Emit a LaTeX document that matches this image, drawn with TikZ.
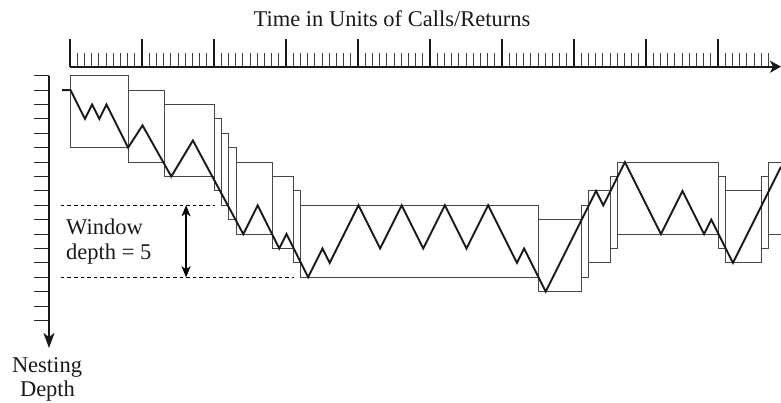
\documentclass[tikz,border=0pt]{standalone}
\usepackage{fontspec}
\setmainfont{Liberation Serif}
\usetikzlibrary{arrows.meta}
\begin{document}
\begin{tikzpicture}[x=1pt,y=-1pt,
  boxline/.style={line width=0.9pt, draw=black!72},
  zig/.style={line width=1.9pt, draw=black!90},
  axisline/.style={line width=1.7pt, draw=black!90},
  majortick/.style={line width=2pt, draw=black!90},
  minortick/.style={line width=0.9pt, draw=black!75},
  depthtick/.style={line width=1pt, draw=black!85},
  winline/.style={line width=0.7pt, dash pattern=on 3.6pt off 3pt},
  lbl/.style={font=\fontsize{22.5}{26}\selectfont, inner sep=0pt, text=black!90},
  ]
\useasboundingbox (0,0) rectangle (781,402);
% ---- time axis ----
\coordinate (tstart) at (70,66.7);
\coordinate (tend) at (781,66.7);
\foreach \k in {1,...,97} \draw[minortick] ({70+7.2*\k},66.7) -- ({70+7.2*\k},52.7);
\foreach \k in {0,...,9} \draw[majortick] ({70+72*\k},66.7) -- ({70+72*\k},39);
\draw[axisline,-{Stealth[length=11pt,width=12pt,inset=3pt]}] (tstart) -- (tend);
\node[lbl, anchor=base] (title) at (392,26) {Time in Units of Calls/Returns};
% ---- depth axis ----
\coordinate (dstart) at (49,75.7);
\coordinate (dend) at (49,348);
\foreach \L in {0,...,17} \draw[depthtick] (34,{75.7+14.4*\L}) -- (49,{75.7+14.4*\L});
\draw[axisline,-{Stealth[length=15pt,width=11pt,inset=4pt]}] (dstart) -- (dend);
\node[lbl, anchor=base] (nest1) at (47,372.5) {Nesting};
\node[lbl, anchor=base] (nest2) at (47.5,396.5) {Depth};
% ---- window label ----
\node[lbl, anchor=base west] (win1) at (66,234.3) {Window};
\node[lbl, anchor=base west] (win2) at (66,259.3) {depth = 5};
% ---- chart in (time, level) units ----
\begin{scope}[shift={(70.5pt,-75.7pt)}, x=7.2pt, y=-14.4pt]
  % windows
  \draw[boxline] (0,0) rectangle (8,5);
  \draw[boxline] (8,1) rectangle (13,6);
  \draw[boxline] (13,2) rectangle (20,7);
  \draw[boxline] (20,3) rectangle (21,8);
  \draw[boxline] (21,4) rectangle (22,9);
  \draw[boxline] (22,5) rectangle (23,10);
  \draw[boxline] (23,6) rectangle (28,11);
  \draw[boxline] (28,7) rectangle (31,12);
  \draw[boxline] (31,8) rectangle (32,13);
  \draw[boxline] (32,9) rectangle (65,14);
  \draw[boxline] (65,10) rectangle (71,15);
  \draw[boxline] (71,9) rectangle (72,14);
  \draw[boxline] (72,8) rectangle (75,13);
  \draw[boxline] (75,7) rectangle (76,12);
  \draw[boxline] (76,6) rectangle (90,11);
  \draw[boxline] (90,7) rectangle (91,12);
  \draw[boxline] (91,8) rectangle (96,13);
  \draw[boxline] (96,7) rectangle (97,12);
  \draw[boxline] (98.68,6) -| (97,11) -- (98.68,11);
  % window-depth guides
  \coordinate (gtopL) at (-1.36,9);
  \coordinate (gtopR) at (20,9);
  \coordinate (gbotL) at (-1.36,14);
  \coordinate (gbotR) at (31,14);
  \draw[winline] (gtopL) -- (gtopR);
  \draw[winline] (gbotL) -- (gbotR);
  \coordinate (wa) at (16.05,9);
  \coordinate (wb) at (16.05,14);
  \draw[line width=1.2pt, {Stealth[length=11pt,width=9pt,inset=3pt]}-{Stealth[length=11pt,width=9pt,inset=3pt]}] (wa) -- (wb);
  % call/return trace
  \draw[zig] (-1.15,1) -- (0,1) -- (2,3) -- (3,2) -- (4,3) -- (5,2) -- (8,5)
    -- (10,3.45) -- (14,7) -- (17,4.5) -- (24,11) -- (26,9) -- (29,12) -- (30,11)
    -- (33,14) -- (35,12) -- (36,13) -- (40,9) -- (43,12) -- (46,9) -- (49,12)
    -- (52,9) -- (55,12) -- (58,9) -- (62,13) -- (63,12) -- (66,15) -- (73,8)
    -- (74,9) -- (77,6) -- (82,11) -- (85,8) -- (88,11) -- (89,10) -- (92,13)
    -- (98.68,6.32);
\end{scope}
\end{tikzpicture}
\end{document}
